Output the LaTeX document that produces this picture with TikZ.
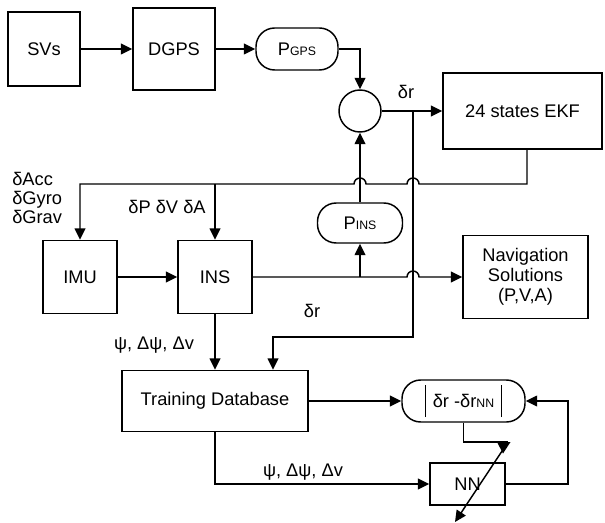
\documentclass[tikz,border=0pt]{standalone}
\usepackage{fontspec}
\setmainfont{Liberation Sans}
\usetikzlibrary{arrows.meta,calc}
% smaller letters set on the same baseline (P_GPS, P_INS, r_NN)
\newcommand\lowtxt[1]{{\fontsize{9.2}{10}\selectfont #1}}
% tall bars of the absolute value
\newcommand\absbar{\rule[-7.5pt]{0.9pt}{24pt}}

\begin{document}
\begin{tikzpicture}[x=0.75pt,y=-0.75pt,
  every node/.style={font=\fontsize{13.7}{15}\selectfont, inner sep=0pt},
  block/.style={draw, line width=1.1pt, align=center},
  pill/.style={draw, line width=1.1pt, rounded corners=14pt},
  link/.style={line width=1.1pt},
  arr/.style={link, -{Triangle[length=8.5pt,width=8pt]}},
  lbl/.style={}
  ]
\useasboundingbox (0,0) rectangle (605,523);

% ---- blocks ----
\node[block, minimum width=54pt,    minimum height=55.5pt]  (svs)  at (44,49)    {SVs};
\node[block, minimum width=61.5pt,  minimum height=61.5pt]  (dgps) at (174,49)   {DGPS};
\node[pill,  minimum width=61.5pt,  minimum height=31.5pt]  (pgps) at (297,49)   {P\lowtxt{GPS}};
\node[draw, circle, line width=1.1pt, minimum size=31.5pt]  (sum)  at (360,111)  {};
\node[block, minimum width=119.25pt, minimum height=57pt]   (ekf)  at (522.5,111) {24 states EKF};
\node[block, minimum width=55.5pt,  minimum height=54.75pt] (imu)  at (80,277)   {IMU};
\node[block, minimum width=55.5pt,  minimum height=54.75pt] (ins)  at (215,277)  {INS};
\node[pill,  minimum width=63.75pt, minimum height=30pt]    (pins) at (360,223)  {P\lowtxt{INS}};
\node[block, minimum width=93.75pt, minimum height=62.25pt] (nav)  at (525.5,277) {Navigation\\Solutions\\(P,V,A)};
\node[block, minimum width=139.5pt, minimum height=45.75pt] (tdb)  at (215,401)  {Training Database};
\node[pill,  minimum width=92.25pt, minimum height=31.5pt]  (err)  at (463.5,401)
  {\absbar\hspace{5pt}δr -δr\lowtxt{NN}\hspace{5pt}\absbar};
\node[block, minimum width=56.25pt, minimum height=31.5pt]  (nn)   at (467.5,484) {NN};

% ---- junctions and corners ----
\coordinate (jr)    at (413,111);
\coordinate (jd)    at (413,337);
\coordinate (tdbR)  at (273,337);
\coordinate (fbE)   at (527,184);
\coordinate (fbIns) at (215,184);
\coordinate (fbImu) at (80,184);
\coordinate (jp)    at (360,277);
\coordinate (nnR)   at (568,484);
\coordinate (adjTop) at (508,442);
\coordinate (adjEnd) at (455,522);

% ---- GPS chain ----
\draw[arr] (svs) -- (dgps);
\draw[arr] (dgps) -- (pgps);
\draw[arr] (pgps.east) -| (sum.north);
\draw[arr] (sum.east) -- (ekf.west);
\draw[arr] (pins.north) -- (sum.south);

% ---- EKF feedback, hopping over the vertical lines ----
\draw[arr] (fbE |- ekf.south) -- (fbE)
  -- (419,184) arc[start angle=0, end angle=180, radius=4.5pt]
  -- (366,184) arc[start angle=0, end angle=180, radius=4.5pt]
  -- (fbImu) -- (imu.north);
\draw[arr] (fbIns) -- (ins.north);

% ---- inertial chain ----
\draw[arr] (imu) -- (ins);
\draw[arr] (ins.east) -- (407,277) arc[start angle=180, end angle=0, radius=4.5pt] -- (nav.west);
\draw[arr] (jp) -- (pins.south);

% ---- training ----
\draw[arr] (jr) -- (jd) -- (tdbR) -- (tdbR |- tdb.north);
\draw[arr] (ins) -- (tdb);
\draw[arr] (tdb) -- (err);
\draw[arr] (tdb.south) |- (nn.west);
\draw[arr] (nn.east) -- (nnR) |- (err.east);

% ---- weight adaptation ----
\draw[link] (err.south) |- (adjTop);
\fill (497,442) -- (510.5,442) -- (503,453.5) -- cycle;
\draw[arr] (adjTop) -- (adjEnd);

% ---- labels ----
\node[lbl] at (406,92)  {δr};
\node[lbl] at (312,311) {δr};
\node[lbl] at (154,345) {ψ, Δψ, Δv};
\node[lbl] at (303,472) {ψ, Δψ, Δv};
\node[lbl] at (167,207) {δP δV δA};
\node[lbl, align=left, anchor=north west, font=\fontsize{13.7}{14.3}\selectfont] at (12,172) {δAcc\\δGyro\\δGrav};
\end{tikzpicture}
\end{document}
